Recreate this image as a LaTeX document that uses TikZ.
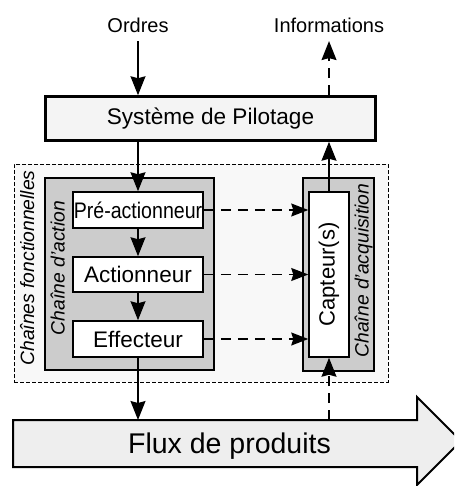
\documentclass[tikz,border=0pt]{standalone}
\usepackage{fontspec}
\usepackage{graphicx}
\setmainfont{Liberation Sans}
\usetikzlibrary{arrows.meta}
\definecolor{pilotfill}{HTML}{F4F4F4}
\definecolor{chainfill}{HTML}{F8F8F8}
\definecolor{grayfill}{HTML}{CCCCCC}
\definecolor{fluxfill}{HTML}{EEEEEE}
\newcommand\myfs[1]{\fontsize{#1}{#1}\selectfont}
\begin{document}
\begin{tikzpicture}[x=1pt,y=-1pt,
  whitebox/.style={draw, line width=1.5pt, fill=white, inner sep=0pt, rectangle, font=\myfs{22.5}},
  graybox/.style={draw, line width=1.6pt, fill=grayfill, inner sep=0pt, rectangle},
  arr/.style={line width=1.3pt, -{Stealth[length=19pt,width=15pt,inset=2pt]}},
  darr/.style={line width=1.3pt, dash pattern=on 10pt off 7pt, -{Stealth[length=17pt,width=13pt,inset=2pt]}},
  darrv/.style={line width=1.3pt, dash pattern=on 10pt off 7pt, -{Stealth[length=19pt,width=15pt,inset=2pt]}},
  lbl/.style={font=\myfs{20}, inner sep=0pt, anchor=base},
  rotlbl/.style={font=\myfs{19.3}\itshape, inner sep=0pt, anchor=base, rotate=90}]
\useasboundingbox (0,0) rectangle (454,486);
\clip (0,0) rectangle (454,486);

% dashed container
\node[draw, dash pattern=on 4pt off 2pt, line width=0.8pt, fill=chainfill, inner sep=0pt,
      minimum width=374pt, minimum height=218pt] (chains) at (201,273) {};
\node[rotlbl] (chainsl) at (34,268) {Chaînes fonctionnelles};

% system box
\node[draw, line width=2.5pt, fill=pilotfill, inner sep=0pt, minimum width=330pt, minimum height=44pt,
      font=\myfs{22.6}] (pilot) at (210.5,118.5) {Système de Pilotage};

% top labels
\node[lbl] (ordres) at (138,32.7) {Ordres};
\node[lbl] (infos) at (329,32.7) {Informations};

% action chain
\node[graybox, minimum width=169pt, minimum height=192pt] (action) at (129.5,274) {};
\node[rotlbl] (actionl) at (64.5,268) {Chaîne d'action};
\node[whitebox, minimum width=130pt, minimum height=36pt] (pre) at (138,210) {\scalebox{0.87}[1]{Pré-actionneur}};
\node[whitebox, minimum width=130pt, minimum height=35pt] (act) at (138,274.5) {Actionneur};
\node[whitebox, minimum width=130pt, minimum height=36pt] (eff) at (138,339) {Effecteur};

% acquisition chain
\node[graybox, minimum width=71pt, minimum height=193pt] (acq) at (338.5,274.5) {};
\node[rotlbl] (acql) at (368.5,270.5) {Chaîne d'acquisition};
\node[whitebox, minimum width=40pt, minimum height=165pt] (capt) at (329,274.5) {\rotatebox{90}{\myfs{22}Capteur(s)}};

% product flow arrow
\coordinate (fluxtop) at (0,420);
\draw[line width=2pt, fill=fluxfill, line join=miter]
  (13,420) -- (417,420) -- (417,397) -- (461,441) -- (417,485) -- (417,467) -- (13,467) -- cycle;
\node[font=\myfs{28.5}, inner sep=0pt, anchor=base] (flux) at (229.5,453) {Flux de produits};

% connectors
\draw[arr] ([yshift=-8pt]ordres.south) -- (ordres.south |- pilot.north);
\draw[darrv] (infos.south |- pilot.north) -- ([yshift=-8pt]infos.south);
\draw[arr] (pre.north |- pilot.south) -- (pre.north);
\draw[arr] (pre.south) -- (act.north);
\draw[arr] (act.south) -- (eff.north);
\draw[arr] (eff.south) -- (eff.south |- fluxtop);
\draw[darr] (pre.east) -- (pre.east -| capt.west);
\draw[darr] (act.east) -- (act.east -| capt.west);
\draw[darr] (eff.east) -- (eff.east -| capt.west);
\draw[arr] (capt.north) -- (capt.north |- pilot.south);
\draw[darrv] (capt.south |- fluxtop) -- (capt.south);
\end{tikzpicture}
\end{document}
